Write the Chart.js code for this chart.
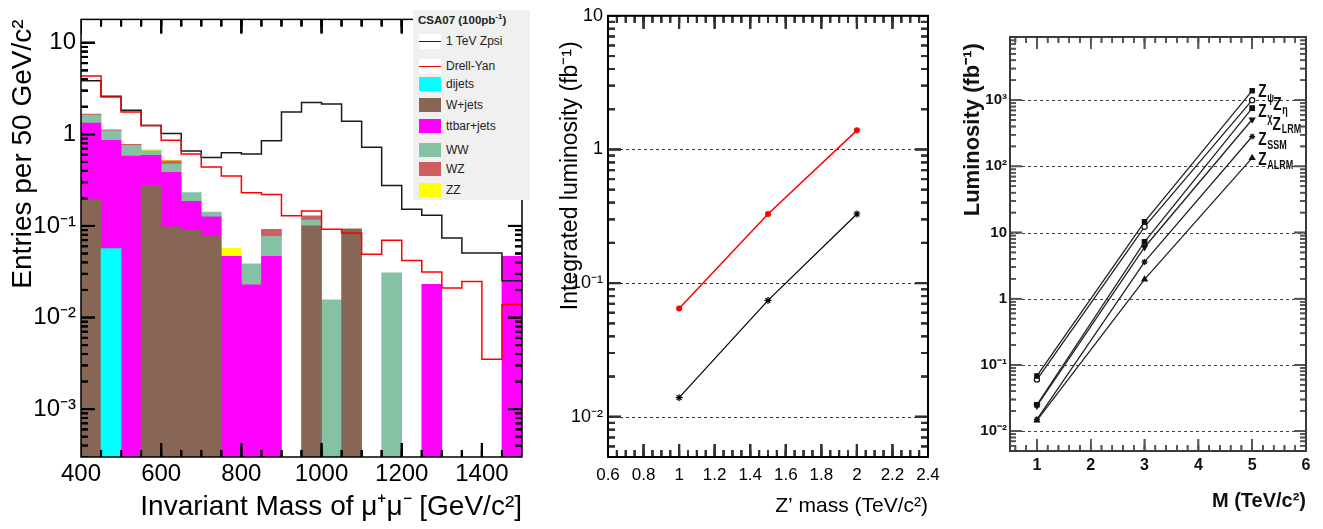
<!DOCTYPE html>
<html><head><meta charset="utf-8">
<script src="https://cdn.jsdelivr.net/npm/chart.js@4.4.1/dist/chart.umd.min.js"></script>
<style>
html,body{margin:0;padding:0;background:#fff;width:1323px;height:529px;overflow:hidden;}
canvas{position:absolute;top:0;}
#c1{left:0px} #c2{left:540px} #c3{left:960px}
#leg{position:absolute;left:413px;top:10px;width:117px;height:190px;background:#f0f0f0;font-family:'Liberation Sans',Arial,sans-serif;color:#222;}
.row{position:absolute;left:0;width:117px;height:16px;font-size:12px;line-height:16px}
.sym{position:absolute;left:6px;width:22px;height:14px;top:1px}
.ln{position:absolute;left:0;top:7px;width:22px;height:0;border-top:1.5px solid #000}
.txt{position:absolute;left:33px;top:0;white-space:nowrap}
.ttl{position:absolute;left:5px;top:4px;font-weight:bold;font-size:11.5px;white-space:nowrap}
.ttl sup{font-size:8px;vertical-align:5px;line-height:0}
</style></head><body>
<canvas id="c1" width="530" height="529"></canvas>
<canvas id="c2" width="420" height="529"></canvas>
<canvas id="c3" width="363" height="529"></canvas>
<div id="leg"></div>
<script>
// ---------------- data: left panel (histogram, 50 GeV bins) ----------------
const binLow = [400,450,500,550,600,650,700,750,800,850,900,950,1000,1050,1100,1150,1200,1250,1300,1350,1400,1450];
const binWidth = 50;
const zpsi     = [3.85,2.60,1.83,1.25,1.02,0.66,0.56,0.63,0.61,0.85,1.75,2.23,2.14,1.39,0.725,0.277,0.152,0.131,0.074,0.0505,0.0505,0.0252];
const drellYan = [4.35,2.56,1.76,1.25,0.86,0.61,0.44,0.35,0.23,0.22,0.129,0.146,0.092,0.0837,0.049,0.070,0.042,0.0315,0.021,0.0247,0.0035,0.0139];
const dijets   = [0,0.0566,0,0,0,0,0,0,0,0,0,0,0,0,0,0,0,0,0,0,0,0];
const wjets    = [0.197,0,0,0.277,0.098,0.090,0.079,0,0,0,0,0.100,0,0.093,0,0,0,0,0,0,0,0];
const ttbar    = [1.133,0.803,0.580,0.313,0.286,0.096,0.047,0.0465,0.0227,0.0465,0,0,0,0,0,0,0,0.0231,0,0,0,0.0465];
const ww       = [0.29,0.23,0.175,0.07,0.09,0.046,0.016,0,0.0159,0.0305,0,0.016,0.0156,0,0,0.0307,0,0,0,0,0,0];
const wz       = [0.04,0.03,0.025,0,0.041,0,0,0,0,0.015,0,0.013,0,0,0,0,0,0,0,0,0,0];
const zz       = [0,0,0,0.025,0.005,0,0,0.0105,0,0,0,0,0,0,0,0,0,0,0,0,0,0];
const xTicks1 = [400,600,800,1000,1200,1400];
const yTicks1 = [0.001,0.01,0.1,1,10];
const yLabels1 = ['10\u207B\u00B3','10\u207B\u00B2','10\u207B\u00B9','1','10'];
const legendTitle = 'CSA07 (100pb<sup>-1</sup>)';
const legendNames = ['1 TeV Zpsi','Drell-Yan','dijets','W+jets','ttbar+jets','WW','WZ','ZZ'];

// ---------------- data: middle panel ----------------
const zMass = [1, 1.5, 2];
const lumiRed = [0.0646, 0.329, 1.39];
const lumiBlack = [0.0139, 0.0742, 0.329];
const xTicks2 = [0.6,0.8,1,1.2,1.4,1.6,1.8,2,2.2,2.4];
const xLabels2 = ['0.6','0.8','1','1.2','1.4','1.6','1.8','2','2.2','2.4'];
const yTicks2 = [0.01,0.1,1,10];
const yLabels2 = ['10\u207B\u00B2','10\u207B\u00B9','1','10'];

// ---------------- data: right panel ----------------
const mTeV = [1, 3, 5];
const lumZpsi  = [0.068, 14.5, 1390];
const lumZeta  = [0.060, 12.2, 1000];
const lumZchi  = [0.025, 7.2, 760];
const lumZlrm  = [0.024, 6.0, 510];
const lumZssm  = [0.015, 3.6, 282];
const lumZalrm = [0.0145, 1.96, 134];
const modelSubs = ['\u03C8','\u03B7','\u03C7','LRM','SSM','ALRM'];
const xTicks3 = [1,2,3,4,5,6];
const yTicks3 = [0.01,0.1,1,10,100,1000];
const yLabels3 = ['10\u207B\u00B2','10\u207B\u00B9','1','10','10\u00B2','10\u00B3'];

// ---------------- helpers (tick-mark positions only) ----------------
function logMinor(lo, hi){const o=[];for(let e=lo;e<=hi;e++)for(let m=2;m<=9;m++)o.push(m*Math.pow(10,e));return o;}
function lin(a,b,s){const o=[];const n=Math.round((b-a)/s);for(let k=0;k<=n;k++)o.push(+(a+k*s).toFixed(6));return o;}
const SANS = "'Liberation Sans', Arial, sans-serif";

function drawTicks(chart, cfg){
  const ctx=chart.ctx, a=chart.chartArea, x=chart.scales.x, y=chart.scales.y;
  const tw=Number(cfg.tickWidth)||1, LM=Number(cfg.majorLen)||12, Lm=Number(cfg.minorLen)||6;
  ctx.save();
  ctx.beginPath(); ctx.rect(a.left, a.top, a.right-a.left, a.bottom-a.top); ctx.clip();
  ctx.fillStyle=cfg.tickColor;
  for(const v of cfg.xMajor){const px=x.getPixelForValue(v); ctx.fillRect(px-tw/2, a.bottom-LM, tw, LM); ctx.fillRect(px-tw/2, a.top, tw, LM);}
  for(const v of cfg.xMinor){const px=x.getPixelForValue(v); ctx.fillRect(px-tw/2, a.bottom-Lm, tw, Lm); ctx.fillRect(px-tw/2, a.top, tw, Lm);}
  for(const v of cfg.yMajor){const py=y.getPixelForValue(v); ctx.fillRect(a.left, py-tw/2, LM, tw); ctx.fillRect(a.right-LM, py-tw/2, LM, tw);}
  for(const v of cfg.yMinor){const py=y.getPixelForValue(v); ctx.fillRect(a.left, py-tw/2, Lm, tw); ctx.fillRect(a.right-Lm, py-tw/2, Lm, tw);}
  ctx.restore();
}

function makeFrame(cfg){
  return {
    id:'frameTicks',
    beforeDatasetsDraw(chart){
      const ctx=chart.ctx, a=chart.chartArea, y=chart.scales.y;
      if(cfg.grid){
        ctx.save(); ctx.strokeStyle=cfg.gridColor; ctx.lineWidth=1; ctx.setLineDash(cfg.gridDash);
        cfg.grid.forEach(v=>{const py=Math.round(y.getPixelForValue(v))+0.5; ctx.beginPath(); ctx.moveTo(a.left,py); ctx.lineTo(a.right,py); ctx.stroke();});
        ctx.restore();
      }
      drawTicks(chart, cfg);
    },
    afterDatasetsDraw(chart){ drawTicks(chart, cfg); },
    afterDraw(chart){
      drawTicks(chart, cfg);
      const ctx=chart.ctx, a=chart.chartArea;
      ctx.save(); ctx.setLineDash([]);
      ctx.strokeStyle=cfg.frameColor; ctx.lineWidth=cfg.frameWidth;
      ctx.strokeRect(a.left,a.top,a.right-a.left,a.bottom-a.top);
      ctx.restore();
    }
  };
}

function makeZLabels(items){
  return {
    id:'zLabels',
    afterDatasetsDraw(chart){
      const ctx=chart.ctx, x=chart.scales.x, y=chart.scales.y;
      ctx.save(); ctx.fillStyle='#111'; ctx.textBaseline='alphabetic'; ctx.textAlign='left';
      items.forEach(it=>{
        const px=x.getPixelForValue(it.atX)+it.dx, py=y.getPixelForValue(it.atY)+it.dy;
        ctx.save(); ctx.translate(px,py); ctx.scale(0.72,1);
        ctx.font="bold 19px "+SANS; ctx.fillText('Z',0,0);
        const w=ctx.measureText('Z').width;
        ctx.font="bold 12.5px "+SANS; ctx.fillText(it.sub,w+1,it.sdy);
        ctx.restore();
      });
      ctx.restore();
    }
  };
}

const noGrid = {display:false, drawTicks:false};

// ---------------- left chart ----------------
const stackDefs = [[dijets,'dijets','#00ffff'],[wjets,'W+jets','#876656'],[ttbar,'ttbar+jets','#ff00ff'],[ww,'WW','#85c2a3'],[wz,'WZ','#cf5e61'],[zz,'ZZ','#ffff00']];
const barSets = stackDefs.map(([arr,label,col])=>({
  type:'bar', label, data: binLow.map((b,i)=>({x:b+binWidth/2, y: arr[i] || null})),
  backgroundColor: col, borderWidth:0, barPercentage:1, categoryPercentage:1, stack:'bkg', order:2
}));
function stepData(arr){ return binLow.map((b,i)=>({x:b,y:arr[i]})).concat([{x:binLow[binLow.length-1]+binWidth,y:arr[arr.length-1]}]); }
const lineSets = [
  {type:'line', label:'1 TeV Zpsi', data: stepData(zpsi), borderColor:'#1a1a1a', borderWidth:1.5, pointRadius:0, stepped:true, stack:'s1', order:1, fill:false},
  {type:'line', label:'Drell-Yan', data: stepData(drellYan), borderColor:'#ff0000', borderWidth:1.5, pointRadius:0, stepped:true, stack:'s2', order:0, fill:false}
];
new Chart(document.getElementById('c1'), {
  type:'bar',
  data:{datasets:[...barSets, ...lineSets]},
  options:{
    animation:false, responsive:false, layout:{padding:{top:10,right:8,left:0,bottom:0}},
    plugins:{legend:{display:false}, tooltip:{enabled:false}},
    scales:{
      x:{type:'linear', min:400, max:1500, offset:false, grid:noGrid, border:{display:false},
        afterBuildTicks:s=>{s.ticks=xTicks1.map(v=>({value:v}));}, afterFit:s=>{s.height=72;},
        ticks:{color:'#000', font:{family:SANS,size:24}, padding:3, maxRotation:0, autoSkip:false, callback:v=>String(v)},
        title:{display:true, color:'#000', text:'Invariant Mass of \u03BC\u207A\u03BC\u207B [GeV/c\u00B2]', align:'end', font:{family:SANS,size:28}, padding:{top:0,bottom:5}}},
      y:{type:'logarithmic', stacked:true, min:3.3e-4, max:18, grid:noGrid, border:{display:false},
        afterBuildTicks:s=>{s.ticks=yTicks1.map(v=>({value:v}));}, afterFit:s=>{s.width=81;},
        ticks:{color:'#000', font:{family:SANS,size:24}, padding:5, autoSkip:false, callback:v=>{const i=yTicks1.findIndex(t=>Math.abs(t-v)/t<1e-6);return i<0?'':yLabels1[i];}},
        title:{display:true, color:'#000', text:'Entries per 50 GeV/c\u00B2', align:'end', font:{family:SANS,size:28}, padding:{top:6.7,bottom:0}}}
    }
  },
  plugins:[makeFrame({xMajor:lin(400,1400,200), xMinor:lin(400,1500,50), yMajor:yTicks1, yMinor:logMinor(-4,1),
        majorLen:14, minorLen:7, tickColor:'#000', tickWidth:2, frameColor:'#000', frameWidth:1.5})]
});

// legend (HTML)
(function(){
  const leg=document.getElementById('leg');
  const centers=[31,56,74.3,95,115.7,140,159.3,180];
  const cols=['#1a1a1a','#ff0000'].concat(stackDefs.map(d=>d[2]));
  let h='<div class="ttl">'+legendTitle+'</div>';
  legendNames.forEach((n,i)=>{
    const sym = i<2 ? '<div class="sym" style="background:#fff;height:15px;top:0.5px"><div class="ln" style="border-top-color:'+cols[i]+'"></div></div>'
                    : '<div class="sym" style="background:'+cols[i]+'"></div>';
    h+='<div class="row" style="top:'+(centers[i]-8)+'px">'+sym+'<div class="txt">'+n+'</div></div>';
  });
  leg.innerHTML=h;
})();

// ---------------- middle chart ----------------
new Chart(document.getElementById('c2'), {
  type:'line',
  data:{datasets:[
    {label:'red', data: zMass.map((m,i)=>({x:m,y:lumiRed[i]})), borderColor:'#ff0000', backgroundColor:'#ff0000', borderWidth:1.5, pointRadius:3, pointStyle:'circle', pointBorderWidth:0},
    {label:'black', data: zMass.map((m,i)=>({x:m,y:lumiBlack[i]})), borderColor:'#000', backgroundColor:'#000', borderWidth:1.2, pointRadius:3.5, pointStyle:'star', pointBorderWidth:1.2}
  ]},
  options:{
    animation:false, responsive:false, layout:{padding:{top:10,right:32,left:0,bottom:0}},
    plugins:{legend:{display:false}, tooltip:{enabled:false}},
    scales:{
      x:{type:'linear', min:0.6, max:2.4, grid:noGrid, border:{display:false},
        afterBuildTicks:s=>{s.ticks=xTicks2.map(v=>({value:v}));}, afterFit:s=>{s.height=72;},
        ticks:{color:'#000', font:{family:SANS,size:17}, padding:8.6, maxRotation:0, autoSkip:false, callback:v=>{const i=xTicks2.findIndex(t=>Math.abs(t-v)<1e-6);return i<0?'':xLabels2[i];}},
        title:{display:true, color:'#000', text:'Z\u2019 mass (TeV/c\u00B2)', align:'end', font:{family:SANS,size:21}, padding:{top:0,bottom:10.4}}},
      y:{type:'logarithmic', min:0.005, max:10, grid:noGrid, border:{display:false},
        afterBuildTicks:s=>{s.ticks=yTicks2.map(v=>({value:v}));}, afterFit:s=>{s.width=68;},
        ticks:{color:'#000', font:{family:SANS,size:18}, padding:5, autoSkip:false, callback:v=>{const i=yTicks2.findIndex(t=>Math.abs(t-v)/t<1e-6);return i<0?'':yLabels2[i];}},
        title:{display:true, color:'#000', text:'Integrated luminosity (fb\u207B\u00B9)\u00A0\u00A0\u00A0\u00A0', align:'end', font:{family:SANS,size:23}, padding:{top:16.6,bottom:0}}}
    }
  },
  plugins:[makeFrame({xMajor:lin(0.6,2.4,0.2), xMinor:lin(0.6,2.4,0.05), yMajor:yTicks2, yMinor:logMinor(-3,0),
        majorLen:13, minorLen:7, tickColor:'#333', tickWidth:2, frameColor:'#000', frameWidth:2,
        grid:[0.01,0.1,1], gridColor:'#333', gridDash:[3,3]})]
});

// ---------------- right chart ----------------
const modelSeries = [lumZpsi,lumZeta,lumZchi,lumZlrm,lumZssm,lumZalrm];
const markerDefs = [
  {pointStyle:'rect', rot:0, fill:'#111', r:3},
  {pointStyle:'circle', rot:0, fill:'#fff', r:2.6},
  {pointStyle:'rect', rot:0, fill:'#111', r:3.2},
  {pointStyle:'triangle', rot:180, fill:'#111', r:3},
  {pointStyle:'star', rot:0, fill:'#111', r:3},
  {pointStyle:'triangle', rot:0, fill:'#111', r:3}
];
const labelOffsets = [[6,6,5],[21,10,4],[6,9.3,5],[20.4,10.2,3.3],[6,8.2,4],[6,7,4]];
new Chart(document.getElementById('c3'), {
  type:'line',
  data:{datasets: modelSeries.map((arr,k)=>({
    label:'Z'+modelSubs[k], data: mTeV.map((m,i)=>({x:m,y:arr[i]})),
    borderColor:'#222', borderWidth:1.3, pointStyle:markerDefs[k].pointStyle, pointRotation:markerDefs[k].rot,
    pointRadius:markerDefs[k].r, backgroundColor:markerDefs[k].fill, pointBorderColor:'#111', pointBorderWidth:1.2
  }))},
  options:{
    animation:false, responsive:false, layout:{padding:{top:37,right:17,left:0,bottom:0}},
    plugins:{legend:{display:false}, tooltip:{enabled:false}},
    scales:{
      x:{type:'linear', min:0.5, max:6, grid:noGrid, border:{display:false},
        afterBuildTicks:s=>{s.ticks=xTicks3.map(v=>({value:v}));}, afterFit:s=>{s.height=78;},
        ticks:{font:{family:SANS,size:16,weight:'bold'}, color:'#111', padding:5.4, maxRotation:0, autoSkip:false, callback:v=>String(v)},
        title:{display:true, text:'M (TeV/c\u00B2)', align:'end', color:'#111', font:{family:SANS,size:20,weight:'bold'}, padding:{top:0,bottom:15.8}}},
      y:{type:'logarithmic', min:0.005, max:9000, grid:noGrid, border:{display:false},
        afterBuildTicks:s=>{s.ticks=yTicks3.map(v=>({value:v}));}, afterFit:s=>{s.width=50;},
        ticks:{font:{family:SANS,size:15,weight:'bold'}, color:'#111', padding:3, autoSkip:false, callback:v=>{const i=yTicks3.findIndex(t=>Math.abs(t-v)/t<1e-6);return i<0?'':yLabels3[i];}},
        title:{display:true, text:'Luminosity (fb\u207B\u00B9)\u00A0', align:'end', color:'#111', font:{family:SANS,size:22,weight:'bold'}, padding:{top:0,bottom:0}}}
    }
  },
  plugins:[makeFrame({xMajor:lin(1,6,1), xMinor:lin(0.6,6,0.2), yMajor:yTicks3, yMinor:logMinor(-3,3),
        majorLen:12, minorLen:6, tickColor:'#555', tickWidth:1.5, frameColor:'#3a3a3a', frameWidth:2,
        grid:yTicks3, gridColor:'#444', gridDash:[3,3]}),
    makeZLabels(modelSubs.map((s,k)=>({sub:s, atX:mTeV[2], atY:modelSeries[k][2], dx:labelOffsets[k][0], dy:labelOffsets[k][1], sdy:labelOffsets[k][2]})))]
});
</script>
</body></html>
